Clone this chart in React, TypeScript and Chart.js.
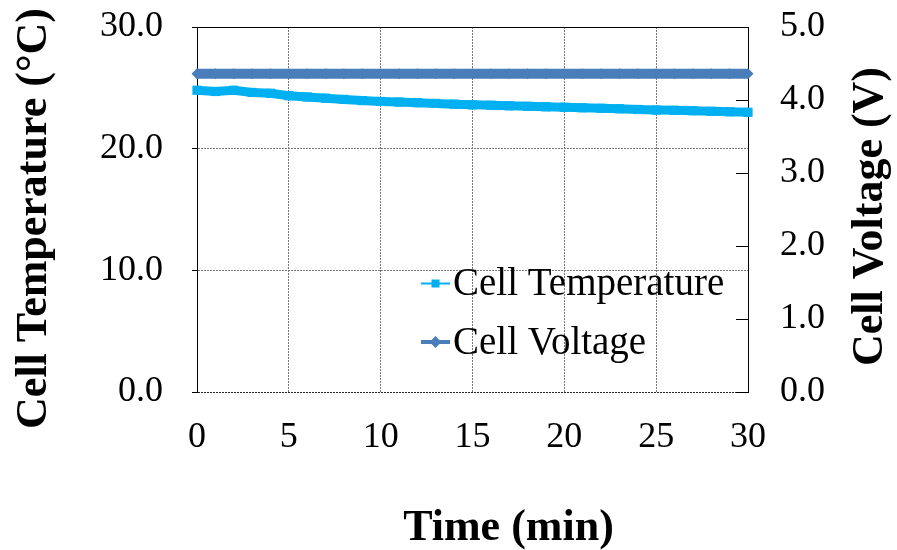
import React, { useEffect, useRef } from "react";
import { Chart, registerables } from "chart.js";

Chart.register(...registerables);

const timeMin: number[] = [0, 1, 2, 3, 4, 5, 6, 7, 8, 9, 10, 11, 12, 13, 14, 15, 16, 17, 18, 19, 20, 21, 22, 23, 24, 25, 26, 27, 28, 29, 30];
const cellTemperature: number[] = [24.8, 24.7, 24.8, 24.62, 24.55, 24.35, 24.25, 24.15, 24.05, 23.95, 23.88, 23.83, 23.78, 23.72, 23.66, 23.6, 23.57, 23.52, 23.48, 23.44, 23.4, 23.36, 23.32, 23.28, 23.22, 23.17, 23.15, 23.12, 23.07, 23.03, 22.99];
const cellVoltage: number[] = [4.36, 4.36, 4.36, 4.36, 4.36, 4.36, 4.36, 4.36, 4.36, 4.36, 4.36, 4.36, 4.36, 4.36, 4.36, 4.36, 4.36, 4.36, 4.36, 4.36, 4.36, 4.36, 4.36, 4.36, 4.36, 4.36, 4.36, 4.36, 4.36, 4.36, 4.36];
const seriesNames: string[] = ["Cell Temperature", "Cell Voltage"];
const axisTitles = { x: "Time (min)", yLeft: "Cell Temperature (°C)", yRight: "Cell Voltage (V)" };

const TEMP_COLOR = "#00B0F0";
const VOLT_COLOR = "#4A7EBB";
const SERIF = "'Liberation Serif', 'Times New Roman', serif";

const decorPlugin = {
  id: "decor",
  afterDraw(chart: any) {
    const { ctx, chartArea: ca, scales } = chart;
    ctx.save();
    // top border
    ctx.strokeStyle = "#000";
    ctx.lineWidth = 1;
    ctx.setLineDash([]);
    ctx.beginPath();
    const ty = Math.round(ca.top) + 0.5;
    ctx.moveTo(ca.left, ty);
    ctx.lineTo(ca.right, ty);
    ctx.stroke();
    // inward tick marks on right axis
    const y1 = scales.y1;
    ctx.beginPath();
    y1.ticks.forEach((t: any) => {
      const py = Math.round(y1.getPixelForValue(t.value)) + 0.5;
      ctx.moveTo(ca.right - 12, py);
      ctx.lineTo(ca.right, py);
    });
    ctx.stroke();

    // legend
    const lx = ca.left + 224;
    const rows = [
      { name: seriesNames[0], color: TEMP_COLOR, lw: 2, marker: "rect", ly: ca.top + 256.5, base: ca.top + 268 },
      { name: seriesNames[1], color: VOLT_COLOR, lw: 4, marker: "rectRot", ly: ca.top + 315, base: ca.top + 327 },
    ];
    rows.forEach((r) => {
      ctx.strokeStyle = r.color;
      ctx.lineWidth = r.lw;
      ctx.beginPath();
      ctx.moveTo(lx, r.ly);
      ctx.lineTo(lx + 29, r.ly);
      ctx.stroke();
      ctx.fillStyle = r.color;
      const cx = lx + 14.5;
      if (r.marker === "rect") {
        ctx.fillRect(cx - 4, r.ly - 4, 8, 8);
      } else {
        ctx.beginPath();
        ctx.moveTo(cx - 6, r.ly);
        ctx.lineTo(cx, r.ly - 6);
        ctx.lineTo(cx + 6, r.ly);
        ctx.lineTo(cx, r.ly + 6);
        ctx.closePath();
        ctx.fill();
      }
      ctx.fillStyle = "#000";
      ctx.font = `39px ${SERIF}`;
      ctx.textAlign = "left";
      ctx.textBaseline = "alphabetic";
      ctx.fillText(r.name, lx + 32, r.base);
    });

    // x axis title
    ctx.fillStyle = "#000";
    ctx.font = `bold 44px ${SERIF}`;
    ctx.textAlign = "center";
    ctx.textBaseline = "alphabetic";
    ctx.fillText(axisTitles.x, (ca.left + ca.right) / 2 + 36, ca.bottom + 148);

    const midY = (ca.top + ca.bottom) / 2;
    // left axis title, reading bottom-to-top
    ctx.save();
    ctx.translate(35, midY + 9);
    ctx.rotate(-Math.PI / 2);
    ctx.textBaseline = "middle";
    ctx.fillText(axisTitles.yLeft, 0, 0);
    ctx.restore();

    // right axis title, reading bottom-to-top
    ctx.translate(ca.right + 122.5, midY + 7);
    ctx.rotate(-Math.PI / 2);
    ctx.textBaseline = "middle";
    ctx.fillText(axisTitles.yRight, 0, 0);
    ctx.restore();
  },
};

export default function App() {
  const ref = useRef<HTMLCanvasElement | null>(null);
  useEffect(() => {
    document.body.style.margin = "0";
    const canvas = ref.current;
    if (!canvas) return;
    const chart = new Chart(canvas, {
      type: "line",
      data: {
        datasets: [
          {
            label: seriesNames[0],
            data: timeMin.map((t, i) => ({ x: t, y: cellTemperature[i] })),
            yAxisID: "y",
            borderColor: TEMP_COLOR,
            backgroundColor: TEMP_COLOR,
            borderWidth: 9,
            pointStyle: "rect",
            pointRadius: 6.5,
            pointBorderWidth: 0,
            pointHoverRadius: 6.5,
            borderJoinStyle: "round",
            clip: false,
            order: 2,
          },
          {
            label: seriesNames[1],
            data: timeMin.map((t, i) => ({ x: t, y: cellVoltage[i] })),
            yAxisID: "y1",
            borderColor: VOLT_COLOR,
            backgroundColor: VOLT_COLOR,
            borderWidth: 10,
            pointStyle: "rectRot",
            pointRadius: 5.5,
            pointBorderWidth: 0,
            pointHoverRadius: 5.5,
            borderJoinStyle: "round",
            clip: false,
            order: 1,
          },
        ],
      },
      options: {
        responsive: false,
        animation: false,
        devicePixelRatio: 1,
        layout: { padding: { top: 27, left: 0, right: 0, bottom: 0 } },
        plugins: { legend: { display: false }, tooltip: { enabled: false } },
        scales: {
          x: {
            type: "linear",
            min: 0,
            max: 30,
            ticks: {
              stepSize: 5,
              color: "#000",
              font: { family: SERIF, size: 36 },
              padding: 24,
              maxRotation: 0,
              callback: (v: any) => String(v),
            },
            grid: { color: "#777", lineWidth: 1, drawTicks: false },
            border: { display: false, dash: [2, 1] },
            title: { display: false, text: axisTitles.x },
            afterFit: (s: any) => {
              s.height = 158;
            },
          },
          y: {
            type: "linear",
            position: "left",
            min: 0,
            max: 30,
            ticks: {
              stepSize: 10,
              color: "#000",
              font: { family: SERIF, size: 36 },
              padding: 29,
              callback: (v: any) => Number(v).toFixed(1),
            },
            grid: {
              color: (c: any) => (c.tick && c.tick.value === 0 ? "#222" : "#777"),
              lineWidth: 1,
              drawTicks: true,
              tickLength: 5,
              tickColor: "#000",
              tickBorderDash: [],
            },
            border: { display: true, color: "#000", width: 1, dash: [2, 1] },
            title: { display: false, text: axisTitles.yLeft },
            afterFit: (s: any) => {
              s.width = 197;
              s.paddingTop = 20;
              s.paddingBottom = 20;
            },
          },
          y1: {
            type: "linear",
            position: "right",
            min: 0,
            max: 5,
            ticks: {
              stepSize: 1,
              color: "#000",
              font: { family: SERIF, size: 36 },
              padding: 32,
              callback: (v: any) => Number(v).toFixed(1),
            },
            grid: { display: false, drawOnChartArea: false, drawTicks: false },
            border: { display: true, color: "#000", width: 1 },
            title: { display: false, text: axisTitles.yRight },
            afterFit: (s: any) => {
              s.width = 149;
              s.paddingTop = 20;
              s.paddingBottom = 20;
            },
          },
        },
      },
      plugins: [decorPlugin],
    } as any);
    return () => chart.destroy();
  }, []);
  return (
    <div style={{ position: "absolute", left: 0, top: 0, width: 897, height: 550, background: "#fff" }}>
      <canvas ref={ref} width={897} height={550} />
    </div>
  );
}
